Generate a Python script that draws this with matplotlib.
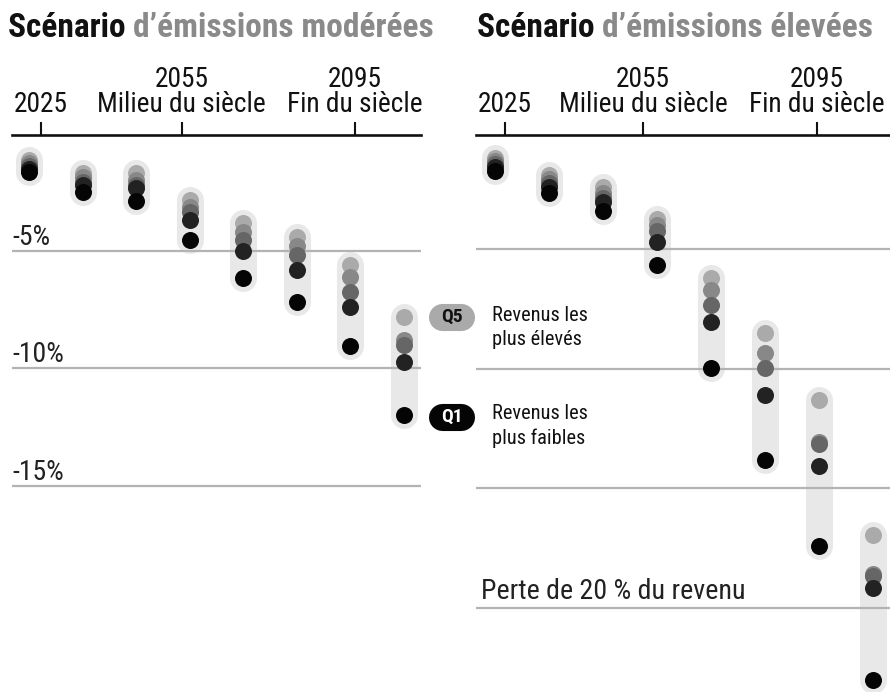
import matplotlib
matplotlib.use("Agg")
import matplotlib.pyplot as plt
from matplotlib.lines import Line2D
import matplotlib.transforms as mtransforms

# Perte de revenu (%) par quintile, 8 périodes
moderate_q5 = [-1.14, -1.67, -1.67, -2.82, -3.79, -4.40, -5.59, -7.80]
moderate_q4 = [-1.25, -1.84, -1.97, -3.12, -4.18, -4.77, -6.09, -8.79]
moderate_q3 = [-1.38, -2.06, -2.19, -3.33, -4.53, -5.17, -6.73, -9.00]
moderate_q2 = [-1.50, -2.19, -2.31, -3.68, -5.00, -5.81, -7.37, -9.74]
moderate_q1 = [-1.65, -2.48, -2.87, -4.53, -6.15, -7.17, -9.03, -11.99]

high_q5 = [-1.20, -1.91, -2.41, -3.75, -6.23, -8.51, -11.31, -16.95]
high_q4 = [-1.32, -2.08, -2.66, -4.00, -6.72, -9.36, -13.07, -18.60]
high_q3 = [-1.45, -2.24, -2.87, -4.25, -7.34, -9.99, -13.16, -18.67]
high_q2 = [-1.57, -2.41, -3.04, -4.71, -8.04, -11.10, -14.07, -19.18]
high_q1 = [-1.74, -2.66, -3.41, -5.67, -9.99, -13.82, -17.40, -23.00]

tick_labels = ["2025", "2055\nMilieu du siècle", "2095\nFin du siècle"]
left_grid = [-5, -10, -15]
left_grid_labels = ["-5%", "-10%", "-15%"]
right_grid = [-5, -10, -15, -20]

quintile_colors = ["#aaaaaa", "#888888", "#666666", "#222222", "#050505"]

plt.rcParams["font.family"] = ["Roboto Condensed", "DejaVu Sans"]

W, H = 890, 692
fig = plt.figure(figsize=(W / 100, H / 100), dpi=100)


def px_box(x0, x1, y0, y1):
    return [x0 / W, 1 - y1 / H, (x1 - x0) / W, (y1 - y0) / H]


ax_l = fig.add_axes(px_box(12, 421, 135, 692))
ax_r = fig.add_axes(px_box(476, 890, 135, 692))
ax_l.set_ylim(-23.79, -0.055)
ax_l.set_xlim(-0.317, 7.317)
ax_r.set_ylim(-23.51, -0.238)
ax_r.set_xlim(-0.35, 7.31)


def draw_panel(ax, series, grid, tick_pos):
    ax.patch.set_alpha(0)
    for s in ["left", "right", "bottom"]:
        ax.spines[s].set_visible(False)
    ax.spines["top"].set_linewidth(1.9)
    ax.spines["top"].set_color("#111111")
    ax.set_yticks([])
    ax.xaxis.tick_top()
    ax.set_xticks(tick_pos)
    ax.set_xticklabels(tick_labels, linespacing=0.9)
    ax.tick_params(axis="x", direction="out", length=9.5, width=1.5,
                   color="#111111", pad=3, labelsize=19.7, labelcolor="#111111")
    for g in grid:
        ax.axhline(g, color="#b3b3b3", lw=1.6, zorder=2)
    n = len(series[0])
    for i in range(n):
        ax.plot([i, i], [series[0][i], series[-1][i]], color="#e8e8e8", lw=19.5,
                solid_capstyle="round", zorder=1)
    for vals, c in zip(series, quintile_colors):
        ax.scatter(range(n), vals, s=150, color=c, lw=0, zorder=3)


draw_panel(ax_l, [moderate_q5, moderate_q4, moderate_q3, moderate_q2, moderate_q1],
           left_grid, [0.22, 2.85, 6.08])
draw_panel(ax_r, [high_q5, high_q4, high_q3, high_q2, high_q1],
           right_grid, [0.19, 2.74, 5.96])

# étiquettes de l'axe vertical
trans = mtransforms.offset_copy(ax_l.get_yaxis_transform(), fig=fig, x=0, y=6, units="dots")
for g, lab in zip(left_grid, left_grid_labels):
    ax_l.text(0, g, lab, transform=trans, fontsize=20, color="#222222", va="baseline", ha="left")

trans_r = mtransforms.offset_copy(ax_r.get_yaxis_transform(), fig=fig, x=5, y=9, units="dots")
ax_r.text(0, -20, "Perte de 20 % du revenu", transform=trans_r, fontsize=20.2,
          color="#222222", va="baseline", ha="left")

# titres
renderer = fig.canvas.get_renderer()
for x0, rest in [(8, "d’émissions modérées"), (477, "d’émissions élevées")]:
    t1 = fig.text(x0 / W, 1 - 37 / H, "Scénario ", fontsize=24, fontweight="bold",
                  color="#111111", va="baseline", ha="left")
    bb = t1.get_window_extent(renderer)
    fig.text(bb.x1 / W, 1 - 37 / H, rest, fontsize=24, fontweight="bold",
             color="#8a8a8a", va="baseline", ha="left")

# légende
for cy, face, tc, lab in [(317, "#aaaaaa", "#111111", "Q5"),
                          (417, "#050505", "white", "Q1")]:
    fig.add_artist(Line2D([441.5 / W, 461.5 / W], [1 - cy / H, 1 - cy / H],
                          transform=fig.transFigure, color=face, lw=19.5,
                          solid_capstyle="round"))
    fig.text(452 / W, 1 - cy / H, lab, fontsize=14, fontweight="bold", color=tc,
             ha="center", va="center")
fig.text(492 / W, 1 - 306 / H, "Revenus les\nplus élevés", fontsize=14.7,
         color="#111111", va="top", ha="left", linespacing=1.35)
fig.text(492 / W, 1 - 404 / H, "Revenus les\nplus faibles", fontsize=14.7,
         color="#111111", va="top", ha="left", linespacing=1.35)

fig.savefig("out.png", dpi=100)
